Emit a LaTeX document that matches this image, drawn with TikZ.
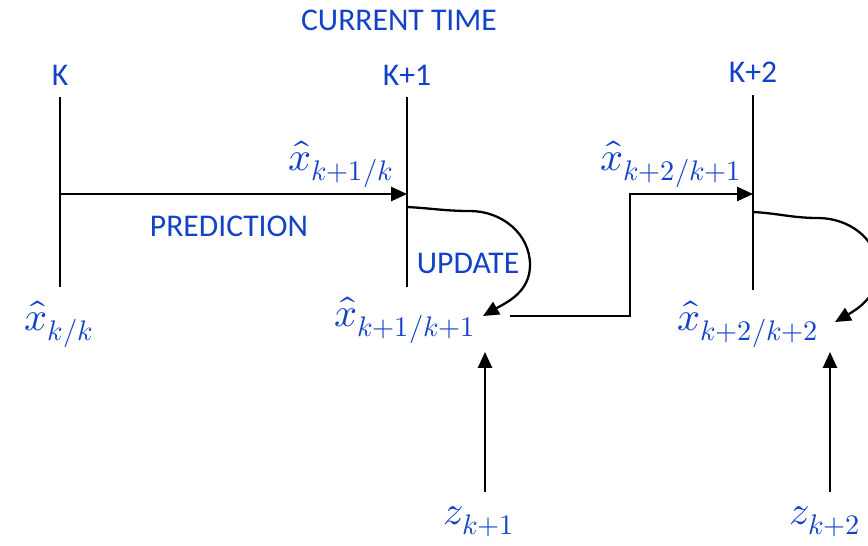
\documentclass[tikz,border=0pt]{standalone}
\usepackage{fontspec}
\usepackage{unicode-math}
\setmainfont{Carlito}
\setmathfont{Latin Modern Math}
\usepackage{tikz}
\usetikzlibrary{arrows.meta,positioning}
\definecolor{ink}{HTML}{1342C8}
\tikzset{
  lbl/.style={text=ink, font=\fontsize{18}{21}\selectfont, inner sep=0pt},
  mlbl/.style={lbl, font=\fontsize{23}{26}\selectfont},
  tline/.style={draw=black, line width=1.1pt},
  flow/.style={-{Triangle[length=9pt, width=8pt]}, draw=black, line width=1.1pt},
  upd/.style={flow, line width=1.3pt}
}

\begin{document}
\begin{tikzpicture}[x=0.02cm, y=-0.02cm]
  \useasboundingbox (0,0) rectangle (868,545);
  % time marks
  \node[lbl] (now) at (399,20) {CURRENT TIME};
  \node[lbl] (tk)  at (60,75)  {K};
  \node[lbl] (tk1) at (407,75) {K+1};
  \node[lbl] (tk2) at (753,72) {K+2};
  \coordinate (k0top) at (60,97);   \coordinate (k0bot) at (60,287);
  \coordinate (k1top) at (407,97);  \coordinate (k1bot) at (407,287);
  \coordinate (k2top) at (753,95);  \coordinate (k2bot) at (753,290);
  \draw[tline] (k0top) -- (k0bot);
  \draw[tline] (k1top) -- (k1bot);
  \draw[tline] (k2top) -- (k2bot);
  % estimates
  \node[mlbl] (xkk)   at (59,324)  {$\widehat{x}_{k/k}$};
  \node[mlbl] (xk1k)  at (341,164) {$\widehat{x}_{k+1/k}$};
  \node[mlbl] (xk1k1) at (405,320) {$\widehat{x}_{k+1/k+1}$};
  \node[mlbl] (xk2k1) at (671,164) {$\widehat{x}_{k+2/k+1}$};
  \node[mlbl] (xk2k2) at (748,324) {$\widehat{x}_{k+2/k+2}$};
  \node[mlbl] (zk1)   at (479,522) {$z_{k+1}$};
  \node[mlbl] (zk2)   at (825,522) {$z_{k+2}$};
  % prediction
  \coordinate (p0) at (60,194);  \coordinate (p1) at (407,194);
  \draw[flow] (p0) -- (p1);
  \node[lbl] (pred) at (229,226) {PREDICTION};
  % update k+1
  \coordinate (u0) at (407,207);  \coordinate (u1) at (483,316);
  \draw[upd] (u0) to[out=-3, in=180] (470,211) to[out=0, in=90] (530,265)
    to[out=-90, in=30] (u1);
  \node[lbl] (upd) at (468,263) {UPDATE};
  % step to k+2
  \coordinate (s0) at (510,316);  \coordinate (s1) at (753,194);
  \draw[flow] (s0) -- (630,316) -- (630,194) -- (s1);
  % update k+2
  \coordinate (v0) at (753,212);  \coordinate (v1) at (835,322);
  \draw[upd] (v0) to[out=-3, in=180] (818,218) to[out=0, in=90] (878,270)
    to[out=-90, in=30] (v1);
  % measurements
  \coordinate (m1) at (485,492);  \coordinate (m1t) at (485,352);
  \coordinate (m2) at (830,492);  \coordinate (m2t) at (830,352);
  \draw[flow] (m1) -- (m1t);
  \draw[flow] (m2) -- (m2t);
\end{tikzpicture}
\end{document}
